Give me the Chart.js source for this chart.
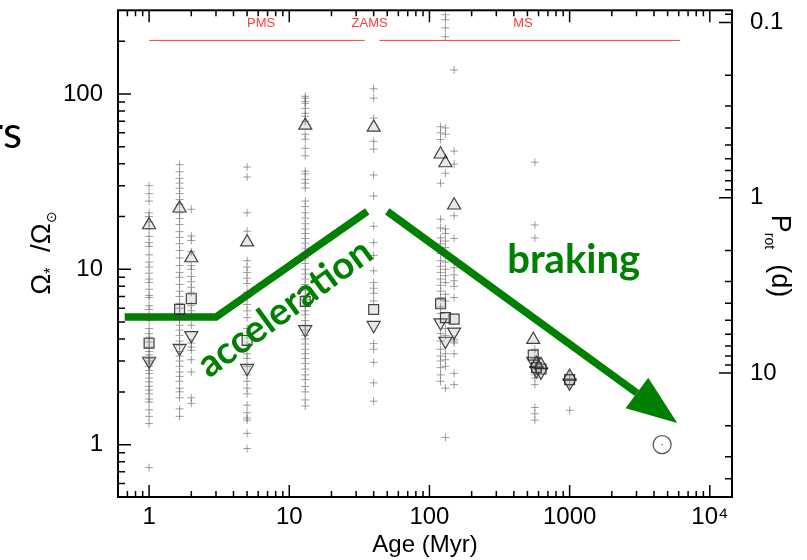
<!DOCTYPE html>
<html>
<head>
<meta charset="utf-8">
<script src="https://cdn.jsdelivr.net/npm/chart.js@4.4.1/dist/chart.umd.min.js"></script>
<style>
  html, body { margin: 0; padding: 0; background: #fff; }
  #wrap { width: 807px; height: 560px; }
</style>
</head>
<body>
<div id="wrap"><canvas id="rotChart" width="807" height="560"></canvas></div>
<script>
// --- axis ticks ---
const ageTicksMajor = [1, 10, 100, 1000, 10000];
const ageTickLabels = ['1', '10', '100', '1000', '10\u2074'];
const ageTicksMinor = [0.7, 0.8, 0.9, 2, 3, 4, 5, 6, 7, 8, 9, 20, 30, 40, 50, 60, 70, 80, 90,
    200, 300, 400, 500, 600, 700, 800, 900, 2000, 3000, 4000, 5000, 6000, 7000, 8000, 9000];
const omegaTicksMajor = [1, 10, 100];
const omegaTickLabels = ['1', '10', '100'];
const omegaTicksMinor = [0.6, 0.7, 0.8, 0.9, 2, 3, 4, 5, 6, 7, 8, 9, 20, 30, 40, 50, 60, 70, 80, 90, 200];
const periodTicksMajor = [0.1, 1, 10];
const periodTickLabels = ['0.1', '1', '10'];
const periodTicksMinor = [0.09, 0.2, 0.3, 0.4, 0.5, 0.6, 0.7, 0.8, 0.9, 2, 3, 4, 5, 6, 7, 8, 9, 20, 30, 40];

const ageRange = [0.627, 14400];
const omegaRange = [0.503, 300];
const sunPeriod = 25.6; // days, Prot at Omega = Omega_sun

// --- rotation data per cluster (Omega / Omega_sun) ---
const clusterAges = [1, 1.65, 2, 5, 13, 40, 120, 130, 150, 550, 580, 625, 1000];
const omegaONC = [30, 27, 24.5, 21, 20, 18.6, 17, 15.4, 14.2, 13.5, 12.1, 11, 10.3, 9.5, 8.8, 8.4, 7.7, 7.1,
    6.9, 6.2, 5.9, 5.4, 5.1, 4.6, 4.3, 4.1, 3.85, 3.6, 3.4, 3.25, 3.1, 3.0, 2.92, 2.8, 2.65, 2.55, 2.4,
    2.28, 2.15, 2.05, 1.95, 1.82, 1.75, 1.58, 1.45, 1.32, 0.74];
const omegaN6530 = [39.5, 36, 33, 31, 29, 27, 25, 23.5, 21, 19.5, 18, 16.4, 15.2, 14, 12.8, 11.6, 10.5, 9.6,
    9, 8.2, 7.5, 7, 6.4, 6, 5.6, 5.2, 4.8, 4.5, 4.2, 3.9, 3.7, 3.4, 3.2, 3.0, 2.8, 2.6, 2.45, 2.3, 2.1,
    2.0, 1.85, 1.6, 1.45];
const omegaN2264 = [22, 15.5, 14.6, 12.6, 10.5, 10, 9.1, 8.5, 7.9, 7.4, 6.2, 5.8, 5.4, 4.8, 3.8, 3.6, 3.45,
    3.05, 2.6, 1.85, 1.72];
const omegaN2362 = [38.3, 33.6, 21, 16.5, 11.2, 10.3, 9.6, 8.9, 8.3, 7.4, 6.9, 6.3, 5.8, 5.3, 4.6, 4.2, 3.7,
    3.3, 3.1, 2.8, 2.5, 2.3, 2.1, 1.95, 1.68, 1.52, 1.42, 1.38, 1.16, 0.95];
const omegaHPer = [97, 94.6, 90.6, 88.4, 82.7, 77.6, 74.6, 69.8, 58.9, 55.2, 49, 44.4, 36.3, 35, 32.6, 31,
    29.1, 24.5, 22.8, 21, 19.6, 18.2, 17, 16, 15, 14.1, 13.2, 12.4, 11.6, 10.8, 10, 9.4, 8.8, 8.2, 7.6,
    7.1, 6.7, 6.2, 5.8, 5.5, 5.1, 4.8, 4.5, 4.2, 4.0, 3.75, 3.5, 3.3, 3.1, 2.9, 2.7, 2.5, 2.35, 2.15,
    2.0, 1.8, 1.66];
const omegaN2547 = [107, 94.6, 72.8, 53.7, 48.5, 34.5, 26.2, 17.6, 14.2, 12.0, 9.8, 8.4, 7.8, 7.3, 6.6,
    3.77, 3.5, 2.95, 2.25, 1.77];
const omegaPleiades = [65, 60, 55, 31, 19.3, 17.2, 15.1, 14, 12.3, 11.2, 10.4, 9.6, 8.8, 8.1, 7.5, 6.9,
    6.1, 5.6, 4.3, 3.9, 3.5, 3.2, 3.0, 2.75, 2.5, 2.3];
const omegaM50 = [283, 265, 238, 212, 64, 59, 35.3, 17, 16, 14.5, 13.3, 11, 10, 9.2, 8.4, 7.2, 6.6, 4.6,
    4.2, 3.3, 3.05, 2.8, 2.1, 1.1];
const omegaM35 = [137, 47.2, 39.8, 20.2, 15, 11.2, 10.2, 9.3, 8.6, 8, 6.9, 4.0, 3.9, 3.8, 3.3, 2.55, 2.2];
const omegaM37 = [40.8, 17.9, 15.1, 3.5, 3.1, 2.5, 2.4, 2.2, 1.63, 1.5, 1.38];
const omegaN6811 = [2.5, 2.2, 1.57];

const omegaP90 = [17.9, 22.3, 11.6, 14.3, 66.2, 64.5, 45.3, 40.4, 23.2, 3.97, 2.9, 2.85, 2.45];
const omegaP50 = [3.79, 5.91, 6.8, 3.93, 6.55, 5.9, 6.36, 5.3, 5.2, 3.24, 2.75, 2.7, 2.35];
const omegaP25 = [3.0, 3.55, 4.2, 2.73, 4.54, 4.8, 4.97, 3.9, 4.4, 3.0, 2.65, 2.6, 2.25];

const sunAge = 4570;
const sunOmega = 1;

// --- annotations ---
const phaseLineOmega = 202;
const pmsAges = [1, 34.5];
const msAges = [44, 6150];
const phaseLabels = ['PMS', 'ZAMS', 'MS'];
const phaseLabelAges = [6.3, 37.4, 464];
const phaseLabelOmega = 252;

const accelAges = [0.67, 3.0, 36];
const accelOmega = [5.35, 5.35, 21.4];
const brakeAges = [50, 3020];
const brakeOmega = [21.4, 1.97];
const arrowTip = [5860, 1.33];

const columns = [
    [1, omegaONC], [1.65, omegaN6530], [2, omegaN2264], [5, omegaN2362], [13, omegaHPer],
    [40, omegaN2547], [120, omegaPleiades], [130, omegaM50], [150, omegaM35],
    [565, omegaM37], [1000, omegaN6811]
];

const plusPoints = [];
columns.forEach(([age, vals]) => vals.forEach(v => plusPoints.push({ x: age, y: v })));

const toPoints = (xs, ys) => xs.map((x, i) => ({ x: x, y: ys[i] }));

const FONT = "'Liberation Sans', Arial, sans-serif";
const axisFont = { family: FONT, size: 24 };
const GREEN = '#008000';
const markerEdge = 'rgba(35,35,35,0.85)';
const markerFill = 'rgba(150,150,150,0.22)';

// draws frame, inward ticks, titles and annotations
const decorPlugin = {
    id: 'decor',
    afterDatasetsDraw(chart) {
        const { ctx, chartArea: a, scales } = chart;
        const xs = scales.x, ys = scales.y, ps = scales.y2;
        ctx.save();

        // red phase labels
        ctx.fillStyle = '#ff3b3b';
        ctx.font = '13px ' + FONT;
        ctx.textAlign = 'center';
        ctx.textBaseline = 'middle';
        phaseLabels.forEach((t, i) => {
            ctx.fillText(t, xs.getPixelForValue(phaseLabelAges[i]), ys.getPixelForValue(phaseLabelOmega));
        });

        // arrow head
        const bx = xs.getPixelForValue(brakeAges[1]), by = ys.getPixelForValue(brakeOmega[1]);
        const tx = xs.getPixelForValue(arrowTip[0]), ty = ys.getPixelForValue(arrowTip[1]);
        const len = Math.hypot(tx - bx, ty - by);
        const nx = -(ty - by) / len, ny = (tx - bx) / len, hw = 19;
        ctx.fillStyle = GREEN;
        ctx.beginPath();
        ctx.moveTo(tx, ty);
        ctx.lineTo(bx + nx * hw, by + ny * hw);
        ctx.lineTo(bx - nx * hw, by - ny * hw);
        ctx.closePath();
        ctx.fill();

        // green words
        ctx.font = "bold 38px Lato, 'Open Sans', sans-serif";
        ctx.textAlign = 'center';
        ctx.textBaseline = 'middle';
        ctx.save();
        ctx.translate(xs.getPixelForValue(9.3), ys.getPixelForValue(6.0));
        ctx.rotate(-0.63);
        ctx.fillText('acceleration', 0, 0);
        ctx.restore();
        ctx.font = "bold 40px Lato, 'Open Sans', sans-serif";
        ctx.textBaseline = 'alphabetic';
        ctx.fillText('braking', xs.getPixelForValue(1069), ys.getPixelForValue(9.55));

        // frame
        ctx.strokeStyle = '#000';
        ctx.lineWidth = 2;
        ctx.strokeRect(a.left, a.top, a.right - a.left, a.bottom - a.top);

        // inward ticks
        ctx.lineWidth = 1.5;
        ctx.beginPath();
        const tickX = (vals, l) => vals.forEach(v => {
            const p = xs.getPixelForValue(v);
            if (p < a.left || p > a.right) return;
            ctx.moveTo(p, a.bottom); ctx.lineTo(p, a.bottom - l);
            ctx.moveTo(p, a.top); ctx.lineTo(p, a.top + l);
        });
        const tickY = (scale, vals, l, right) => vals.forEach(v => {
            const p = scale.getPixelForValue(v);
            if (p < a.top || p > a.bottom) return;
            if (right) { ctx.moveTo(a.right, p); ctx.lineTo(a.right - l, p); }
            else { ctx.moveTo(a.left, p); ctx.lineTo(a.left + l, p); }
        });
        tickX(ageTicksMajor, 12); tickX(ageTicksMinor, 6);
        tickY(ys, omegaTicksMajor, 13, false); tickY(ys, omegaTicksMinor, 7, false);
        tickY(ps, periodTicksMajor, 13, true); tickY(ps, periodTicksMinor, 7, true);
        ctx.stroke();

        // composite axis titles
        const drawParts = (cx, cy, rot, parts) => {
            ctx.save();
            ctx.translate(cx, cy);
            ctx.rotate(rot);
            ctx.fillStyle = '#000';
            ctx.textAlign = 'left';
            ctx.textBaseline = 'alphabetic';
            let total = 0;
            parts.forEach(p => { ctx.font = p.size + 'px ' + FONT; p.w = ctx.measureText(p.t).width; total += p.w; });
            let x = -total / 2;
            parts.forEach(p => {
                ctx.font = p.size + 'px ' + FONT;
                ctx.fillText(p.t, x, 9 + p.dy);
                x += p.w;
            });
            ctx.restore();
        };
        drawParts(41, 253, -Math.PI / 2, [
            { t: '\u03A9', size: 28, dy: 0 }, { t: '*', size: 16, dy: 6 },
            { t: '  /\u03A9', size: 28, dy: 0 }, { t: '\u2299', size: 14, dy: 6 }
        ]);
        drawParts(781, 256, Math.PI / 2, [
            { t: 'P', size: 27, dy: 0 }, { t: 'rot', size: 14, dy: 7 }, { t: '  (d)', size: 27, dy: 0 }
        ]);

        // cut slide text on the far left
        ctx.fillStyle = '#000';
        ctx.font = "44px Lato, 'Open Sans', sans-serif";
        ctx.textAlign = 'right';
        ctx.fillText('rs', 22, 148);

        ctx.restore();
    }
};

const fixWidth = w => s => { s.width = w; s.paddingTop = 0; s.paddingBottom = 0; };

new Chart(document.getElementById('rotChart'), {
    type: 'scatter',
    data: {
        datasets: [
            {
                data: plusPoints, pointStyle: 'cross', pointRadius: 4, borderWidth: 1,
                borderColor: 'rgba(70,70,70,0.5)'
            },
            {
                data: toPoints(clusterAges, omegaP90), pointStyle: 'triangle', pointRadius: 7.5,
                borderWidth: 1.2, borderColor: markerEdge, backgroundColor: markerFill
            },
            {
                data: toPoints(clusterAges, omegaP50), pointStyle: 'rect', pointRadius: 7,
                borderWidth: 1.2, borderColor: markerEdge, backgroundColor: markerFill
            },
            {
                data: toPoints(clusterAges, omegaP25), pointStyle: 'triangle', rotation: 180, pointRadius: 7.5,
                borderWidth: 1.2, borderColor: markerEdge, backgroundColor: markerFill
            },
            {
                data: [{ x: sunAge, y: sunOmega }], pointStyle: 'circle', pointRadius: 9,
                borderWidth: 1.3, borderColor: 'rgba(70,70,70,0.9)', backgroundColor: 'rgba(0,0,0,0)'
            },
            {
                data: [{ x: sunAge, y: sunOmega }], pointStyle: 'circle', pointRadius: 0.8,
                borderWidth: 0, backgroundColor: 'rgba(90,90,90,0.8)'
            },
            {
                data: toPoints(pmsAges, [phaseLineOmega, phaseLineOmega]), showLine: true, pointRadius: 0,
                borderColor: '#ff3b3b', borderWidth: 1
            },
            {
                data: toPoints(msAges, [phaseLineOmega, phaseLineOmega]), showLine: true, pointRadius: 0,
                borderColor: '#ff3b3b', borderWidth: 1
            },
            {
                data: toPoints(accelAges, accelOmega), showLine: true, pointRadius: 0,
                borderColor: GREEN, borderWidth: 7.5, borderCapStyle: 'butt', borderJoinStyle: 'miter'
            },
            {
                data: toPoints(brakeAges, brakeOmega), showLine: true, pointRadius: 0,
                borderColor: GREEN, borderWidth: 7.5, borderCapStyle: 'butt'
            }
        ]
    },
    options: {
        responsive: false,
        animation: false,
        devicePixelRatio: 1,
        layout: { padding: { top: 8, left: 0, right: 0, bottom: 0 } },
        plugins: { legend: { display: false }, tooltip: { enabled: false } },
        scales: {
            x: {
                type: 'logarithmic', position: 'bottom', min: ageRange[0], max: ageRange[1],
                grid: { display: false, drawTicks: false }, border: { display: false },
                ticks: {
                    color: '#000', font: axisFont, padding: 6, autoSkip: false, maxRotation: 0,
                    callback: v => ageTickLabels[ageTicksMajor.indexOf(v)]
                },
                title: { display: true, text: 'Age (Myr)', color: '#000', font: axisFont, padding: 0 },
                afterBuildTicks: s => { s.ticks = ageTicksMajor.map(v => ({ value: v })); },
                afterFit: s => { s.height = 63; s.paddingLeft = 0; s.paddingRight = 0; }
            },
            y: {
                type: 'logarithmic', position: 'left', min: omegaRange[0], max: omegaRange[1],
                grid: { display: false, drawTicks: false }, border: { display: false },
                ticks: {
                    color: '#000', font: axisFont, padding: 15, autoSkip: false,
                    callback: v => omegaTickLabels[omegaTicksMajor.indexOf(v)]
                },
                afterBuildTicks: s => { s.ticks = omegaTicksMajor.map(v => ({ value: v })); },
                afterFit: fixWidth(118)
            },
            y2: {
                type: 'logarithmic', position: 'right', reverse: true,
                min: sunPeriod / omegaRange[1], max: sunPeriod / omegaRange[0],
                grid: { display: false, drawTicks: false }, border: { display: false },
                ticks: {
                    color: '#000', font: axisFont, padding: 18, autoSkip: false,
                    callback: v => periodTickLabels[periodTicksMajor.indexOf(v)]
                },
                afterBuildTicks: s => { s.ticks = periodTicksMajor.map(v => ({ value: v })); },
                afterFit: fixWidth(75)
            }
        }
    },
    plugins: [decorPlugin]
});
</script>
</body>
</html>
